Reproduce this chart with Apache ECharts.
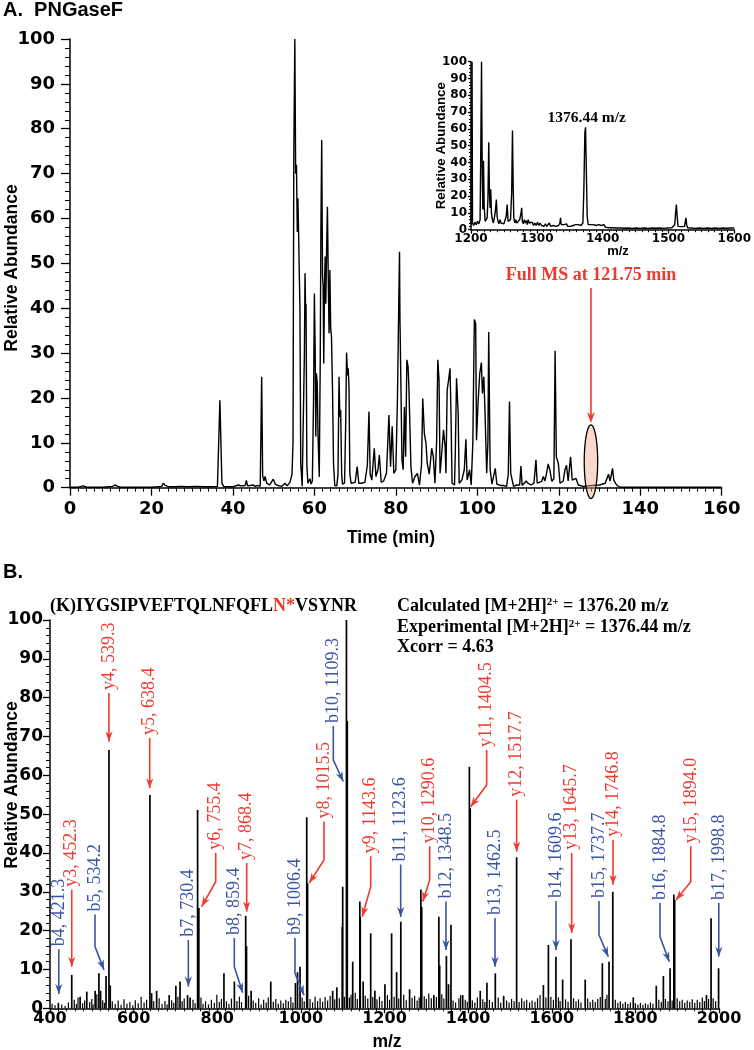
<!DOCTYPE html>
<html><head><meta charset="utf-8">
<script src="https://cdn.jsdelivr.net/npm/echarts@6/dist/echarts.min.js"></script>
<style>html,body{margin:0;padding:0;background:#fff}#c{width:754px;height:1050px}</style>
</head><body><div id="c"></div>
<script>
// ---------- DATA ----------
// Panel A: base-peak chromatogram [time (min), relative abundance]
const chromatogram = [
[0,0.1],[2,0.1],[3.3,0.4],[4,0.1],[8,0.1],[10.5,0.3],[11,0.6],[11.8,0.3],[12.5,0.1],[20,0.1],[22.5,0.3],[22.9,1.0],[23.4,0.5],[23.7,0.7],[24.2,0.2],[26,0.2],[27,0.3],[29,0.2],[31,0.3],[33,0.2],[35,0.2],[36.2,0.3],[36.8,19.5],[37.3,1.0],[37.8,0.2],[40,0.2],[41.3,0.6],[42,0.4],[43,0.5],[43.3,1.6],[43.6,0.4],[45,0.6],[45.5,0.3],[46,0.5],[46.7,0.3],[47.06,24.7],[47.3,2.7],[47.6,1.5],[47.9,2.5],[48.3,1.0],[49,0.6],[49.9,1.9],[50.4,0.8],[51,0.5],[52,0.3],[52.8,1.0],[53.3,0.4],[54.0,1.2],[54.5,3.0],[54.75,10],[54.95,75],[55.2,100],[55.4,70],[55.6,72],[55.8,57],[55.95,64.5],[56.1,58],[56.3,47.5],[56.45,40],[56.65,5.4],[57.0,0.3],[57.3,0.5],[57.55,30],[57.7,47.8],[57.85,38.9],[57.95,41],[58.15,5],[58.4,1.0],[58.9,2.0],[59.2,0.8],[59.5,1.5],[59.8,20],[60.0,43.3],[60.2,30],[60.35,11.4],[60.5,25.5],[60.7,23.2],[60.9,11.4],[61.2,2.4],[61.45,30],[61.6,58],[61.8,77.5],[62.0,47],[62.15,45],[62.3,27.7],[62.5,46],[62.65,51.5],[62.8,41],[63.0,53],[63.2,62.6],[63.4,47],[63.6,34.4],[63.8,48.5],[64.0,35.5],[64.2,33.6],[64.45,21.8],[64.7,5.4],[65.0,0.5],[65.5,0.4],[65.8,3],[66.05,24.7],[66.25,15.8],[66.45,17.3],[66.7,3],[66.9,0.8],[67.4,1.0],[67.7,15],[67.9,30.1],[68.15,25],[68.3,26.6],[68.5,22.5],[68.7,3.2],[69.0,1.0],[70.0,1.2],[70.5,4.7],[70.9,1.0],[71.5,1.0],[72.4,1.2],[73.0,5],[73.4,17],[73.7,3],[74.1,1.7],[74.7,8.8],[75.1,2.5],[75.6,4],[75.95,7.3],[76.4,1.2],[77.0,1.5],[77.7,3.2],[78.3,16.2],[78.7,4.7],[79.1,13.7],[79.5,3.2],[80.0,4],[80.4,20],[80.6,33.7],[80.9,52.6],[81.0,38.1],[81.2,25.5],[81.5,6.2],[81.8,4],[82.1,18],[82.4,6.9],[82.7,28.5],[83.0,27],[83.2,22.5],[83.7,4.7],[84.1,1.0],[84.7,2.5],[85.3,3.2],[85.8,0.6],[86.3,5],[86.6,19.9],[87.0,12.1],[87.4,9.9],[87.7,5.4],[88.2,3],[88.8,8.8],[89.2,6.9],[89.6,1.0],[90.0,10],[90.3,28.5],[90.6,24],[90.85,3.2],[91.2,6.9],[91.7,12.9],[92.1,9.1],[92.3,3.2],[92.6,21.8],[92.95,24],[93.3,26.6],[93.55,15.8],[93.8,1.0],[94.4,0.6],[94.6,8],[94.9,24.4],[95.3,16.6],[95.55,1.0],[96.2,1.7],[96.8,4],[97.2,10.8],[97.5,1.7],[98.1,4],[98.5,0.6],[98.9,10],[99.27,37.5],[99.6,36.6],[99.8,10.6],[100.2,19.2],[100.6,25.5],[101.0,27.9],[101.25,21],[101.6,24.7],[101.9,16.6],[102.3,3.2],[102.6,10],[102.8,34.7],[103.15,4],[103.6,0.8],[104.4,4.3],[104.8,0.8],[105.6,0.5],[106.4,0.5],[107.2,0.3],[107.6,3],[107.9,19.2],[108.2,3.2],[108.9,0.3],[109.6,0.6],[110.4,0.6],[110.7,4.8],[111.0,0.5],[112.0,1.5],[112.4,1.0],[113.2,0.6],[113.9,1.0],[114.4,6.2],[114.7,1.0],[115.8,1.4],[116.2,2.5],[116.6,1.5],[117.0,3.2],[117.4,5.3],[117.8,4],[118.3,1.4],[118.8,2],[119.1,30.5],[119.4,6.9],[119.9,5.4],[120.3,1.0],[121.1,1.5],[121.5,3.9],[121.9,5],[122.3,1.5],[122.9,6.9],[123.3,1.7],[124.2,2.1],[124.8,0.6],[126,0.3],[128,0.5],[130,0.6],[131.4,1.0],[132.2,3],[132.6,1.5],[133.2,4.3],[133.5,1.7],[134.2,0.6],[135,0.1],[140,0.1],[160,0.1]
];
// Inset: full MS spectrum at 121.75 min [m/z, relative abundance]
const fullMsSpectrum = [
[1200,3],[1201,4],[1201.6,100],[1202.3,4],[1204,2.5],[1206,4.5],[1208,3],[1210,5],[1212,3.5],[1213.8,6],[1214.8,45],[1216,100],[1217,35],[1218,12],[1219,41],[1220,14],[1221.5,5],[1223,4.5],[1224.5,7],[1225.7,18],[1227,52],[1228,22],[1229,13],[1230,24],[1231,10],[1232.5,6],[1234,4],[1235.5,7],[1237,11],[1238.5,18],[1239.7,8],[1241,5],[1242.5,3.5],[1244,6],[1245.5,4],[1247,3],[1248.5,5],[1250,3.5],[1251.5,4],[1253.5,8],[1255,15],[1256.3,5],[1258,4],[1260,6],[1261.8,22],[1263,59],[1264,28],[1265,7],[1266.5,4],[1268,6],[1269.5,4],[1271,5],[1272.5,3.5],[1274,6],[1276,10],[1277,13],[1278,5],[1279.5,3.5],[1281,6],[1282.5,4],[1284,5.5],[1285.5,3],[1287,6],[1288.5,4],[1290,5],[1291.5,3],[1293,4.5],[1295,2.5],[1297,4],[1299,2.5],[1301,4.5],[1303,2.5],[1305,4],[1307,2.5],[1309,3.5],[1311,2],[1313,3.5],[1315,2],[1317,3],[1319,4],[1321,2],[1323,3],[1325,2.5],[1327,3.5],[1329,2],[1331,3],[1333,2.5],[1335,4],[1336,7],[1337,3],[1339,2],[1341,3],[1343,2],[1345,3.5],[1347,2],[1349,3],[1351,2],[1353,3],[1355,2.5],[1357,2],[1359,3],[1361,2],[1363,3],[1365,2],[1367,2.5],[1368.5,2],[1370,4],[1371.5,25],[1373,58],[1374,61],[1375,40],[1376.5,8],[1378,3],[1380,2],[1382,3],[1384,2],[1386,3],[1388,2],[1390,2.5],[1392,1.5],[1394,3],[1396,2],[1398,2.5],[1400,1.5],[1402,3],[1404,1.5],[1406,2],[1409,1.2],[1412,2],[1415,1.2],[1418,2],[1421,1],[1424,1.8],[1427,1],[1430,1.6],[1433,0.9],[1436,1.8],[1439,1],[1442,1.5],[1445,0.8],[1448,1.6],[1451,1],[1454,1.4],[1457,0.8],[1460,1.5],[1463,1],[1466,1.6],[1469,0.8],[1472,1.4],[1475,1],[1478,1.8],[1481,0.9],[1484,1.5],[1487,1],[1490,1.6],[1493,0.8],[1496,1.4],[1499,1],[1502,1.6],[1505,1.2],[1508,1.5],[1509.5,3],[1511,11],[1512,15],[1513,9],[1514.5,2],[1517,1.2],[1520,1.8],[1523,1],[1524.5,2],[1525.5,5],[1526.6,7],[1527.6,3],[1529,1.2],[1532,1.8],[1535,1],[1538,1.5],[1541,0.8],[1544,1.6],[1547,1],[1550,1.4],[1553,0.8],[1556,1.5],[1559,1],[1562,1.3],[1565,0.8],[1568,1.5],[1571,1],[1574,1.3],[1577,0.8],[1580,1.4],[1583,1],[1586,1.5],[1589,0.9],[1592,1.4],[1595,1],[1598,1.3],[1600,1]
];
// Panel B: MS/MS spectrum peaks [m/z, relative abundance]
const msmsPeaks = [
[420,1.4],[452,8.6],[472,3],[488,4.3],[508,4.5],[517,9],[521,4.5],[534,8.3],[541,66.5],[544,5.9],[639,54.9],[643,3.9],[655,4.5],[685,3.4],[701,5.8],[711,6.9],[729,3.4],[735,2.8],[753,51.1],[756,25.8],[816,9],[841,6.9],[868,23.8],[870,16],[881,4.5],[928,6.9],[987,6.5],[992,9.3],[998,10.7],[1014,49.2],[1016,32.2],[1076,4.5],[1086,5.4],[1099,21],[1100,31.3],[1109,100],[1111,74],[1124,12],[1141,27.5],[1142,23.5],[1149,6.9],[1167,19.3],[1177,4.5],[1201,6.2],[1217,19.3],[1229,9.3],[1239,22.3],[1260,4.9],[1287,30.6],[1289,26.1],[1318,3.4],[1330,23.6],[1332,11],[1348,13.5],[1353,6.2],[1359,21.5],[1387,3.4],[1403,62.2],[1405,51.5],[1429,4.5],[1445,6.6],[1465,9],[1485,3.2],[1516,38.9],[1580,6],[1592,16.3],[1610,13.3],[1626,7.4],[1646,17.8],[1680,7.4],[1721,11.6],[1737,12],[1746,30],[1795,2.8],[1850,5.8],[1867,8.3],[1883,10.3],[1892,29.3],[1894,27.9],[1970,3.4],[1981,23.2],[1999,10.3]
];
// Panel B: low-level noise peaks [m/z, relative abundance]
const msmsNoise = [
[405,1.2],[412,0.8],[428,1.0],[436,0.6],[444,1.5],[458,2.2],[463,1.1],[467,2.8],[478,1.3],[483,2.0],[495,1.6],[500,2.4],[503,1.0],[512,3.6],[526,2.1],[530,1.4],[549,1.8],[556,1.1],[563,2.0],[570,0.9],[577,2.3],[584,1.2],[591,1.6],[598,0.8],[604,2.1],[611,1.3],[618,3.0],[625,1.5],[631,2.2],[648,1.8],[661,2.6],[668,1.1],[675,1.9],[680,1.0],[691,2.1],[696,1.4],[706,3.0],[716,1.8],[721,2.5],[742,2.2],[747,1.3],[761,2.8],[766,1.2],[772,1.8],[779,1.0],[786,2.2],[793,1.4],[799,3.5],[805,1.6],[810,2.4],[822,1.8],[828,1.1],[834,2.5],[847,1.9],[853,3.0],[858,1.6],[875,3.2],[886,2.0],[892,1.4],[899,2.6],[905,1.0],[911,2.2],[917,1.5],[922,2.8],[934,1.7],[940,2.4],[946,1.2],[952,2.0],[958,1.3],[964,2.2],[970,1.8],[976,2.9],[981,1.5],[1003,2.8],[1008,1.8],[1022,2.4],[1028,1.5],[1034,3.0],[1040,1.9],[1046,2.6],[1052,1.7],[1058,2.9],[1064,2.0],[1070,3.2],[1081,2.3],[1092,2.6],[1104,3.0],[1116,2.8],[1120,3.5],[1130,4.0],[1135,2.4],[1154,3.2],[1160,2.5],[1172,2.9],[1182,2.3],[1188,3.0],[1194,1.9],[1207,3.4],[1212,2.2],[1223,3.0],[1234,2.5],[1246,3.5],[1252,2.1],[1266,2.7],[1272,3.2],[1278,2.0],[1283,2.8],[1295,3.1],[1300,2.4],[1306,3.8],[1312,2.6],[1324,2.9],[1337,3.6],[1342,2.5],[1364,2.0],[1370,1.5],[1378,2.6],[1382,3.4],[1393,2.2],[1398,1.7],[1410,2.1],[1416,1.5],[1422,2.8],[1435,2.3],[1440,1.6],[1451,2.2],[1458,1.6],[1472,2.8],[1478,1.4],[1492,2.0],[1498,1.5],[1504,2.4],[1510,1.8],[1522,1.6],[1528,2.6],[1534,1.8],[1540,2.2],[1547,1.5],[1553,2.0],[1560,1.7],[1566,2.6],[1572,3.4],[1586,2.8],[1598,3.0],[1604,2.2],[1616,2.8],[1620,1.9],[1633,2.3],[1639,1.7],[1652,2.6],[1658,1.8],[1664,2.3],[1670,1.5],[1686,2.5],[1692,1.6],[1698,2.2],[1704,1.6],[1710,2.4],[1716,2.9],[1728,2.4],[1732,3.5],[1752,2.2],[1758,1.4],[1764,1.8],[1770,1.2],[1776,1.6],[1782,1.1],[1788,1.5],[1800,1.3],[1806,1.0],[1812,1.4],[1818,0.9],[1824,1.3],[1830,1.0],[1836,1.5],[1842,1.2],[1856,2.2],[1862,1.6],[1872,2.4],[1878,1.8],[1888,2.0],[1900,2.6],[1906,1.8],[1912,2.2],[1918,1.4],[1924,2.0],[1930,1.6],[1936,2.3],[1942,1.4],[1948,2.2],[1954,1.6],[1960,2.8],[1965,1.9],[1975,2.4],[1986,2.6],[1992,1.8]
];
// Fragment-ion labels: text anchor (m/z, abundance at label foot), optional bend, arrow tip
const fragmentLabels = ['b4, 421.3','y3, 452.3','b5, 534.2','y4, 539.3','y5, 638.4','y6, 755.4','b7, 730.4','y7, 868.4','b8, 859.4','b9, 1006.4','y8, 1015.5','b10, 1109.3','y9, 1143.6','b11, 1123.6','y10, 1290.6','b12, 1348.5','y11, 1404.5','y12, 1517.7','b13, 1462.5','b14, 1609.6','y13, 1645.7','b15, 1737.7','y14, 1746.8','b16, 1884.8','y15, 1894.0','b17, 1998.8'];
const fragmentAnchor = [ // [labelMz, labelFootAbund, bendAbund|null, tipMz, tipAbund]
[421,16.0,null,421,3.7],[452,31.3,null,452,10.7],[507.6,24.9,15.9,529.1,9.9],[541,82.0,null,541,68.7],[638.5,70.4,null,638.5,56.7],
[796.3,40.8,32.6,762.8,26.2],[730.8,18.4,null,730.8,5.6],[870.4,38.2,null,870.4,24.9],[840.8,18.9,10.7,860.9,4.0],[985.9,18.9,9.0,1007.5,3.4],
[1055.3,48.9,38.2,1020.1,32.3],[1077.6,73.5,63.9,1101.4,58.4],[1167.0,39.9,31.3,1146.8,23.6],[1238.7,37.8,null,1238.7,23.5],[1308,42.5,33.0,1291.4,27.5],
[1347,28.3,null,1347,15.0],[1444.3,67.3,57.5,1406.1,51.9],[1516.1,54.5,null,1516.1,40.3],[1464.3,24.0,null,1464.3,10.7],[1610.2,28.4,null,1610.2,15.0],
[1647.7,40.8,null,1647.7,19.4],[1713,28.4,18.9,1735.2,13.3],[1746.5,44.2,null,1746.5,31.8],[1858.9,27.9,18.4,1881.1,12.0],[1932.5,42.5,32.6,1897.2,27.9],
[1999.5,27.9,null,1999.5,13.3]
];
// Full MS marker in panel A: [time, ellipse centre abundance]
const fullMsMarker = [[127.9, 5.8]];
const timeTicks = [0,20,40,60,80,100,120,140,160];
const abundTicks = [0,10,20,30,40,50,60,70,80,90,100];

// ---------- STYLE ----------
const RED = '#ec3a2f', BLUE = '#3a54a4', BLACK = '#000';
const SANS = '"Liberation Sans", Arial, sans-serif';
const NUM = '"DejaVu Sans", sans-serif';
const SERIF = '"Liberation Serif", "Times New Roman", serif';

function axisBase(o) {
  return Object.assign({
    type: 'value',
    axisLine: {show: true, onZero: false, lineStyle: {color: BLACK, width: 1.5}},
    axisTick: {show: true, inside: false, length: o.tickLen, lineStyle: {color: BLACK, width: 1.3}},
    minorTick: {show: true, splitNumber: o.minorSplit, length: o.minorLen, lineStyle: {color: BLACK, width: 1}},
    axisLabel: {color: BLACK, fontFamily: NUM, fontWeight: 'bold', fontSize: o.fontSize, margin: o.margin,
      hideOverlap: false, showMinLabel: true, showMaxLabel: true, formatter: function (v) { return String(v); }},
    splitLine: {show: false}, minorSplitLine: {show: false}
  }, o.extra);
}

const chart = echarts.init(document.getElementById('c'), null, {renderer: 'canvas'});

function arrowHead(tip, prev, color, len, half) {
  const dx = tip[0] - prev[0], dy = tip[1] - prev[1];
  const L = Math.hypot(dx, dy) || 1, ux = dx / L, uy = dy / L;
  const bx = tip[0] - ux * len, by = tip[1] - uy * len;
  const nx = tip[0] - ux * len * 0.7, ny = tip[1] - uy * len * 0.7;
  return {type: 'polygon', shape: {points: [[bx - uy * half, by + ux * half], tip, [bx + uy * half, by - ux * half], [nx, ny]]}, style: {fill: color}};
}

const option = {
  animation: false,
  backgroundColor: '#fff',
  grid: [
    {left: 70, top: 39, right: 32.3, bottom: 562.3, containLabel: false},
    {left: 471, top: 61.7, right: 16, bottom: 820.3, containLabel: false},
    {left: 50, top: 620, right: 35, bottom: 41.7, containLabel: false}
  ],
  xAxis: [
    axisBase({tickLen: 8, minorSplit: 10, minorLen: 4, fontSize: 18, margin: 13, extra: {gridIndex: 0, min: timeTicks[0], max: timeTicks[timeTicks.length-1], interval: 20}}),
    axisBase({tickLen: 4, minorSplit: 10, minorLen: 2.5, fontSize: 12, margin: 3, extra: {gridIndex: 1, min: 1200, max: 1600, interval: 100}}),
    axisBase({tickLen: 5, minorSplit: 10, minorLen: 3, fontSize: 16, margin: 3, extra: {gridIndex: 2, min: 400, max: 2000, interval: 200}})
  ],
  yAxis: [
    axisBase({tickLen: 9, minorSplit: 5, minorLen: 5, fontSize: 18, margin: 15, extra: {gridIndex: 0, min: abundTicks[0], max: 100, interval: 10}}),
    axisBase({tickLen: 3, minorSplit: 5, minorLen: 2, fontSize: 12, margin: 4, extra: {gridIndex: 1, min: 0, max: 100, interval: 10}}),
    axisBase({tickLen: 7, minorSplit: 5, minorLen: 4, fontSize: 17, margin: 7, extra: {gridIndex: 2, min: 0, max: 100, interval: 10}})
  ],
  series: [
    {type: 'line', xAxisIndex: 0, yAxisIndex: 0, data: chromatogram, showSymbol: false, symbol: 'none',
     lineStyle: {color: BLACK, width: 1.4}, z: 3, clip: false},
    {type: 'line', xAxisIndex: 1, yAxisIndex: 1, data: fullMsSpectrum, showSymbol: false, symbol: 'none',
     lineStyle: {color: BLACK, width: 1.4}, z: 3},
    {type: 'custom', xAxisIndex: 2, yAxisIndex: 2, data: msmsNoise, z: 3,
     renderItem: function (params, api) {
       const p0 = api.coord([api.value(0), 0]), p1 = api.coord([api.value(0), api.value(1)]);
       return {type: 'line', shape: {x1: p0[0], y1: p0[1], x2: p1[0], y2: p1[1]}, style: {stroke: BLACK, lineWidth: 1.2}};
     }},
    {type: 'custom', xAxisIndex: 2, yAxisIndex: 2, data: msmsPeaks, z: 4,
     renderItem: function (params, api) {
       const p0 = api.coord([api.value(0), 0]), p1 = api.coord([api.value(0), api.value(1)]);
       return {type: 'line', shape: {x1: p0[0], y1: p0[1], x2: p1[0], y2: p1[1]}, style: {stroke: BLACK, lineWidth: 1.7}};
     }},
    {type: 'custom', xAxisIndex: 2, yAxisIndex: 2, data: fragmentAnchor.map(a => [a[0], a[1]]), z: 5, clip: false,
     renderItem: function (params, api) {
       const a = fragmentAnchor[params.dataIndex];
       const label = fragmentLabels[params.dataIndex];
       const color = label.charAt(0) === 'y' ? RED : BLUE;
       const foot = api.coord([a[0], a[1]]);
       const pts = [[foot[0], foot[1] + 3]];
       if (a[2] !== null) pts.push(api.coord([a[0], a[2]]));
       const tip = api.coord([a[3], a[4]]);
       pts.push(tip);
       return {type: 'group', children: [
         {type: 'polyline', shape: {points: pts}, style: {stroke: color, lineWidth: 1.6, fill: null}},
         arrowHead(tip, pts[pts.length - 2], color, 10, 3.6),
         {type: 'text', x: foot[0], y: foot[1], rotation: Math.PI / 2,
          style: {text: label, fill: color, font: '18px ' + SERIF, align: 'left', verticalAlign: 'middle'}}
       ]};
     }},
    {type: 'custom', xAxisIndex: 0, yAxisIndex: 0, data: fullMsMarker, z: 4, clip: false,
     renderItem: function (params, api) {
       const c = api.coord([api.value(0), api.value(1)]);
       const sz = api.size([1.65, 8.2]);
       const ell = [];
       for (let i = 0; i < 64; i++) {
         const ang = i / 64 * Math.PI * 2;
         ell.push([c[0] + sz[0] * Math.cos(ang), c[1] + sz[1] * Math.sin(ang)]);
       }
       const top = api.coord([api.value(0), 44.5]);
       const tip = api.coord([api.value(0), 14.4]);
       const lab = api.coord([api.value(0), 47.4]);
       return {type: 'group', children: [
         {type: 'polygon', shape: {points: ell}, style: {fill: 'rgba(243,170,140,0.45)', stroke: BLACK, lineWidth: 1.3}},
         {type: 'line', shape: {x1: top[0], y1: top[1], x2: tip[0], y2: tip[1] - 6}, style: {stroke: RED, lineWidth: 1.6}},
         arrowHead(tip, top, RED, 11, 4),
         {type: 'text', x: lab[0], y: lab[1], style: {text: 'Full MS at 121.75 min', fill: RED, font: 'bold 18px ' + SERIF, align: 'center', verticalAlign: 'middle'}}
       ]};
     }}
  ],
  graphic: [
    {type: 'text', x: 3, y: 10, style: {text: 'A.  PNGaseF', font: 'bold 20px ' + SANS, fill: BLACK, align: 'left', verticalAlign: 'middle'}},
    {type: 'text', x: 12.5, y: 268, rotation: Math.PI / 2, style: {text: 'Relative Abundance', font: 'bold 17.5px ' + SANS, fill: BLACK, align: 'center', verticalAlign: 'middle'}},
    {type: 'text', x: 391, y: 538, style: {text: 'Time (min)', font: 'bold 17.5px ' + SANS, fill: BLACK, align: 'center', verticalAlign: 'middle'}},
    {type: 'text', x: 441, y: 145.7, rotation: Math.PI / 2, style: {text: 'Relative Abundance', font: 'bold 13.3px ' + SANS, fill: BLACK, align: 'center', verticalAlign: 'middle'}},
    {type: 'text', x: 618, y: 251, style: {text: 'm/z', font: 'bold 13px ' + SANS, fill: BLACK, align: 'center', verticalAlign: 'middle'}},
    {type: 'text', x: 586.7, y: 118, style: {text: '1376.44 m/z', font: 'bold 15.5px ' + SERIF, fill: BLACK, align: 'center', verticalAlign: 'middle'}},
    {type: 'text', x: 3, y: 572, style: {text: 'B.', font: 'bold 20px ' + SANS, fill: BLACK, align: 'left', verticalAlign: 'middle'}},
    {type: 'text', x: 50, y: 606.7, style: {text: '(K)IYGSIPVEFTQLNFQFL{r|N*}VSYNR', font: 'bold 18px ' + SERIF, fill: BLACK, align: 'left', verticalAlign: 'middle',
      rich: {r: {fill: RED, fontFamily: '"Liberation Serif"', fontWeight: 'bold', fontSize: 18}}}},
    {type: 'text', x: 397, y: 606, style: {text: 'Calculated [M+2H]{s|2+} = 1376.20 m/z', font: 'bold 18px ' + SERIF, fill: BLACK, align: 'left', verticalAlign: 'middle',
      rich: {s: {fontFamily: '"Liberation Serif"', fontWeight: 'bold', fontSize: 11, verticalAlign: 'top', fill: BLACK}}}},
    {type: 'text', x: 397, y: 627.3, style: {text: 'Experimental [M+2H]{s|2+} = 1376.44 m/z', font: 'bold 18px ' + SERIF, fill: BLACK, align: 'left', verticalAlign: 'middle',
      rich: {s: {fontFamily: '"Liberation Serif"', fontWeight: 'bold', fontSize: 11, verticalAlign: 'top', fill: BLACK}}}},
    {type: 'text', x: 397, y: 647.7, style: {text: 'Xcorr = 4.63', font: 'bold 18px ' + SERIF, fill: BLACK, align: 'left', verticalAlign: 'middle'}},
    {type: 'text', x: 12.5, y: 785, rotation: Math.PI / 2, style: {text: 'Relative Abundance', font: 'bold 17.5px ' + SANS, fill: BLACK, align: 'center', verticalAlign: 'middle'}},
    {type: 'text', x: 387, y: 1042, style: {text: 'm/z', font: 'bold 17.5px ' + SANS, fill: BLACK, align: 'center', verticalAlign: 'middle'}}
  ]
};
chart.setOption(option);
</script></body></html>
